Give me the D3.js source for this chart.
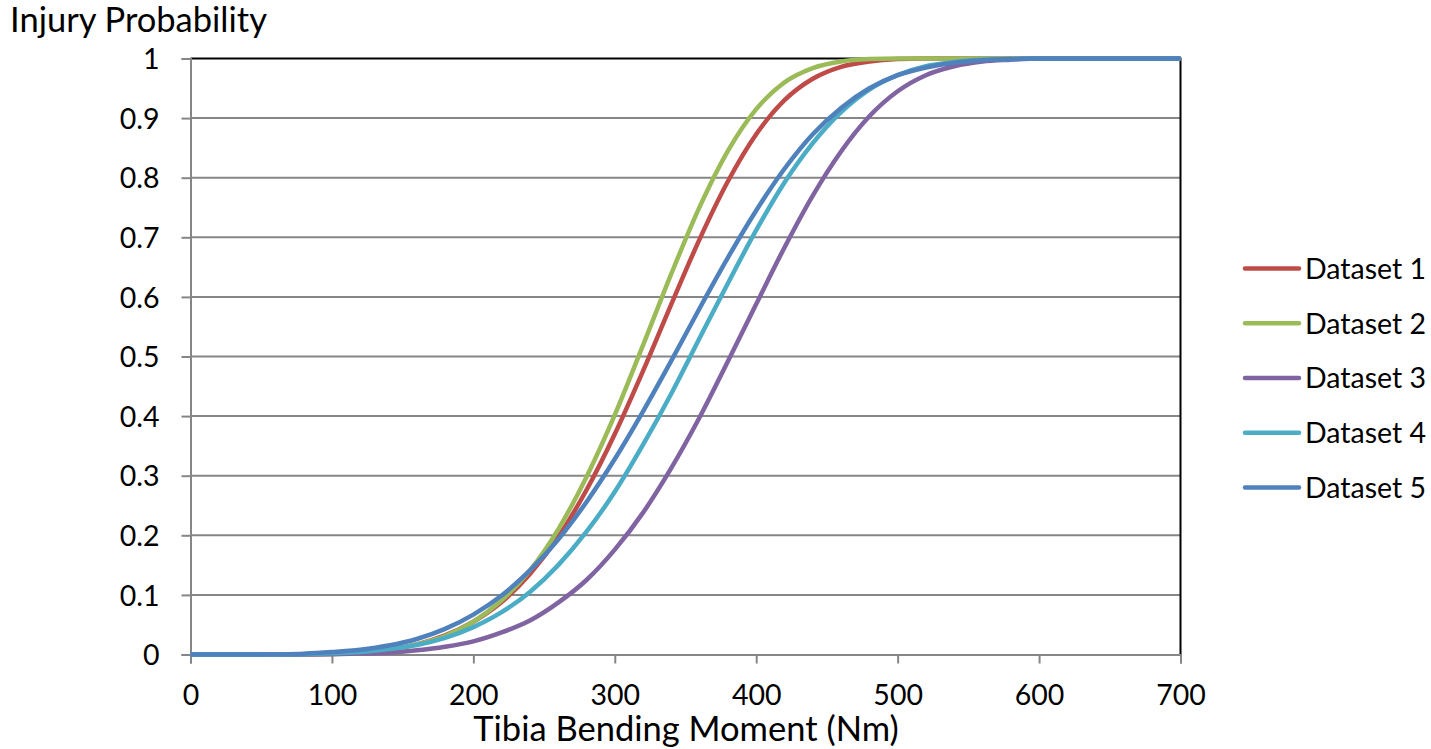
<!DOCTYPE html>
<html>
<head>
<meta charset="utf-8">
<script src="https://cdn.jsdelivr.net/npm/d3@7"></script>
<style>
  html, body { margin: 0; padding: 0; background: #ffffff; }
  svg { display: block; }
  text { font-family: Lato, "Open Sans", sans-serif; fill: #000; }
</style>
</head>
<body>
<svg id="chart" width="1431" height="749"></svg>
<script>
// Bending moment sample points (Nm)
const moment = [0, 20, 40, 60, 80, 100, 120, 140, 160, 180, 200, 220, 240, 260, 280, 300, 320, 340,
  360, 380, 400, 420, 440, 460, 480, 500, 520, 540, 560, 580, 600, 620, 640, 660, 680, 700];

// Injury probability per dataset at each moment
const dataset1 = [0, 0, 0, 0, 0.0005, 0.0015, 0.004, 0.009, 0.017, 0.032, 0.055, 0.088, 0.135, 0.197, 0.276, 0.370, 0.476, 0.588,
  0.697, 0.794, 0.873, 0.930, 0.966, 0.986, 0.995, 0.999, 1, 1, 1, 1, 1, 1, 1, 1, 1, 1];
const dataset2 = [0, 0, 0, 0, 0.0004, 0.001, 0.003, 0.008, 0.017, 0.031, 0.055, 0.091, 0.141, 0.210, 0.298, 0.402, 0.519, 0.639,
  0.751, 0.845, 0.915, 0.960, 0.984, 0.995, 0.999, 1, 1, 1, 1, 1, 1, 1, 1, 1, 1, 1];
const dataset3 = [0, 0, 0, 0, 0.0002, 0.0006, 0.0015, 0.003, 0.007, 0.013, 0.022, 0.037, 0.057, 0.087, 0.125, 0.176, 0.238, 0.313,
  0.398, 0.492, 0.588, 0.683, 0.770, 0.844, 0.903, 0.945, 0.972, 0.987, 0.995, 0.998, 1, 1, 1, 1, 1, 1];
const dataset4 = [0, 0, 0, 0.0002, 0.0006, 0.002, 0.004, 0.009, 0.016, 0.028, 0.046, 0.071, 0.105, 0.150, 0.206, 0.273, 0.352, 0.438,
  0.531, 0.623, 0.712, 0.792, 0.858, 0.910, 0.948, 0.972, 0.987, 0.994, 0.998, 0.999, 1, 1, 1, 1, 1, 1];
const dataset5 = [0, 0, 0.0001, 0.0004, 0.0013, 0.004, 0.008, 0.015, 0.026, 0.043, 0.067, 0.099, 0.141, 0.193, 0.256, 0.328, 0.408, 0.493,
  0.581, 0.666, 0.745, 0.815, 0.873, 0.917, 0.950, 0.972, 0.985, 0.993, 0.997, 0.999, 1, 1, 1, 1, 1, 1];

const seriesNames = ["Dataset 1", "Dataset 2", "Dataset 3", "Dataset 4", "Dataset 5"];
const seriesColors = ["#BE4B48", "#9BBB59", "#8064A2", "#4BACC6", "#4F81BD"];
const seriesValues = [dataset1, dataset2, dataset3, dataset4, dataset5];

const xTicks = [0, 100, 200, 300, 400, 500, 600, 700];
const yTicks = [0, 0.1, 0.2, 0.3, 0.4, 0.5, 0.6, 0.7, 0.8, 0.9, 1];
const yTickLabels = ["0", "0.1", "0.2", "0.3", "0.4", "0.5", "0.6", "0.7", "0.8", "0.9", "1"];

const svg = d3.select("#chart");
const plotLeft = 190.5, plotRight = 1180.5, plotTop = 58.5, plotBottom = 654.5;
const labelSize = 28.5;
const titleSize = 34.5;
const gridColor = "#868686";

const x = d3.scaleLinear().domain([0, 700]).range([plotLeft, plotRight]);
const y = d3.scaleLinear().domain([0, 1]).range([plotBottom, plotTop]);

// Horizontal gridlines
svg.append("g")
  .selectAll("line")
  .data(yTicks.filter(v => v > 0 && v < 1))
  .join("line")
  .attr("x1", plotLeft).attr("x2", plotRight)
  .attr("y1", d => y(d)).attr("y2", d => y(d))
  .attr("stroke", gridColor).attr("stroke-width", 2);

// Plot area border (top and right)
svg.append("path")
  .attr("d", `M${plotLeft},${plotTop}H${plotRight}V${plotBottom}`)
  .attr("fill", "none").attr("stroke", "#000").attr("stroke-width", 2);

// Y axis
const yAxis = svg.append("g")
  .attr("transform", `translate(${plotLeft},0)`)
  .call(d3.axisLeft(y).tickValues(yTicks).tickSize(9).tickPadding(22)
    .tickFormat((d, i) => yTickLabels[i]));
yAxis.select(".domain").attr("stroke", gridColor).attr("stroke-width", 2);
yAxis.selectAll(".tick line").attr("stroke", gridColor).attr("stroke-width", 2);
yAxis.selectAll(".tick text")
  .attr("font-size", labelSize).attr("font-family", "Lato, 'Open Sans', sans-serif")
  .attr("fill", "#000").attr("dy", "0.36em");

// X axis
const xAxis = svg.append("g")
  .attr("transform", `translate(0,${plotBottom})`)
  .call(d3.axisBottom(x).tickValues(xTicks).tickSize(9).tickFormat(d3.format("d")));
xAxis.select(".domain").attr("stroke", gridColor).attr("stroke-width", 2);
xAxis.selectAll(".tick line").attr("stroke", gridColor).attr("stroke-width", 2);
xAxis.selectAll(".tick text")
  .attr("font-size", labelSize).attr("font-family", "Lato, 'Open Sans', sans-serif")
  .attr("fill", "#000").attr("y", 705 - plotBottom).attr("dy", null);

// Probability curves
const line = d3.line()
  .x((d, i) => x(moment[i]))
  .y(d => y(d))
  .curve(d3.curveMonotoneX);

svg.append("g")
  .selectAll("path")
  .data(seriesValues)
  .join("path")
  .attr("d", d => line(d))
  .attr("fill", "none")
  .attr("stroke", (d, i) => seriesColors[i])
  .attr("stroke-width", 4.5)
  .attr("stroke-linejoin", "round");

// Axis titles
svg.append("text")
  .attr("x", 10).attr("y", 32)
  .attr("font-size", titleSize)
  .text("Injury Probability");

svg.append("text")
  .attr("x", 686).attr("y", 741)
  .attr("text-anchor", "middle")
  .attr("font-size", titleSize)
  .text("Tibia Bending Moment (Nm)");

// Legend
const legend = svg.append("g")
  .selectAll("g")
  .data(seriesNames)
  .join("g")
  .attr("transform", (d, i) => `translate(1245,${268.5 + i * 54.75})`);
legend.append("line")
  .attr("x1", 0).attr("x2", 54)
  .attr("stroke", (d, i) => seriesColors[i])
  .attr("stroke-width", 4.5)
  .attr("stroke-linecap", "round");
legend.append("text")
  .attr("x", 60).attr("dy", "0.36em")
  .attr("font-size", labelSize)
  .text(d => d);
</script>
</body>
</html>
